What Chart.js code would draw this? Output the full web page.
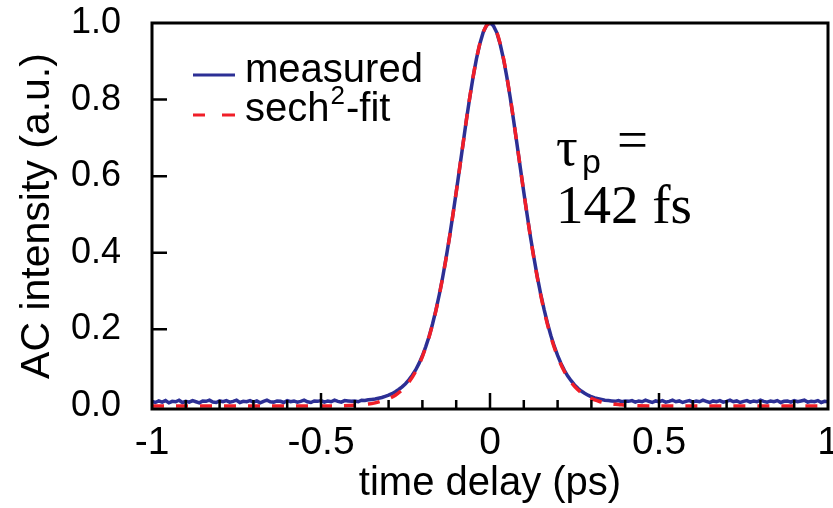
<!DOCTYPE html>
<html><head><meta charset="utf-8">
<script src="https://cdn.jsdelivr.net/npm/chart.js@4"></script>
<style>html,body{margin:0;padding:0;background:#fff;}#wrap{width:833px;height:508px;}</style>
</head><body><div id="wrap"><canvas id="c" width="833" height="508"></canvas></div>
<script>
const xTickValues = [-1, -0.5, 0, 0.5, 1];
const yTickValues = [0, 0.2, 0.4, 0.6, 0.8, 1.0];
const xMinorTicks = [-0.9,-0.8,-0.7,-0.6,-0.4,-0.3,-0.2,-0.1,0.1,0.2,0.3,0.4,0.6,0.7,0.8,0.9];
const seriesNames = ['measured', 'sech\u00B2-fit'];

const measuredTime = [
-1.00,-0.99,-0.98,-0.97,-0.96,-0.95,-0.94,-0.93,-0.92,-0.91,-0.90,-0.89,-0.88,-0.87,-0.86,-0.85,-0.84,-0.83,-0.82,-0.81,
-0.80,-0.79,-0.78,-0.77,-0.76,-0.75,-0.74,-0.73,-0.72,-0.71,-0.70,-0.69,-0.68,-0.67,-0.66,-0.65,-0.64,-0.63,-0.62,-0.61,
-0.60,-0.59,-0.58,-0.57,-0.56,-0.55,-0.54,-0.53,-0.52,-0.51,-0.50,-0.49,-0.48,-0.47,-0.46,-0.45,-0.44,-0.43,-0.42,-0.41,
-0.40,-0.39,-0.38,-0.37,-0.36,-0.35,-0.34,-0.33,-0.32,-0.31,-0.30,-0.29,-0.28,-0.27,-0.26,-0.25,-0.24,-0.23,-0.22,-0.21,
-0.20,-0.19,-0.18,-0.17,-0.16,-0.15,-0.14,-0.13,-0.12,-0.11,-0.10,-0.09,-0.08,-0.07,-0.06,-0.05,-0.04,-0.03,-0.02,-0.01,
0.00,0.01,0.02,0.03,0.04,0.05,0.06,0.07,0.08,0.09,0.10,0.11,0.12,0.13,0.14,0.15,0.16,0.17,0.18,0.19,
0.20,0.21,0.22,0.23,0.24,0.25,0.26,0.27,0.28,0.29,0.30,0.31,0.32,0.33,0.34,0.35,0.36,0.37,0.38,0.39,
0.40,0.41,0.42,0.43,0.44,0.45,0.46,0.47,0.48,0.49,0.50,0.51,0.52,0.53,0.54,0.55,0.56,0.57,0.58,0.59,
0.60,0.61,0.62,0.63,0.64,0.65,0.66,0.67,0.68,0.69,0.70,0.71,0.72,0.73,0.74,0.75,0.76,0.77,0.78,0.79,
0.80,0.81,0.82,0.83,0.84,0.85,0.86,0.87,0.88,0.89,0.90,0.91,0.92,0.93,0.94,0.95,0.96,0.97,0.98,0.99,1.00];

const measuredSignal = [
0.012,0.009,0.013,0.010,0.014,0.008,0.012,0.011,0.015,0.009,0.012,0.010,0.014,0.011,0.008,0.013,0.012,0.015,0.010,0.009,
0.013,0.011,0.014,0.010,0.012,0.015,0.009,0.012,0.011,0.014,0.010,0.013,0.008,0.012,0.015,0.011,0.010,0.013,0.012,0.009,
0.014,0.011,0.013,0.010,0.012,0.015,0.011,0.009,0.013,0.012,0.014,0.010,0.013,0.011,0.015,0.012,0.010,0.014,0.013,0.012,
0.013,0.011,0.015,0.014,0.016,0.017,0.018,0.020,0.022,0.025,0.028,0.032,0.037,0.043,0.050,0.058,0.068,0.080,0.094,0.111,
0.131,0.155,0.182,0.214,0.250,0.291,0.336,0.386,0.440,0.498,0.558,0.620,0.683,0.746,0.805,0.859,0.907,0.946,0.976,0.994,
1.000,0.993,0.975,0.945,0.906,0.858,0.804,0.745,0.683,0.620,0.558,0.498,0.440,0.387,0.337,0.292,0.252,0.216,0.184,0.156,
0.132,0.111,0.093,0.078,0.066,0.055,0.046,0.039,0.033,0.028,0.024,0.021,0.019,0.017,0.015,0.014,0.013,0.012,0.014,0.011,
0.013,0.012,0.014,0.010,0.013,0.011,0.015,0.012,0.009,0.013,0.011,0.014,0.010,0.012,0.015,0.011,0.013,0.009,0.012,0.014,
0.010,0.013,0.011,0.015,0.012,0.009,0.013,0.011,0.014,0.010,0.012,0.015,0.011,0.013,0.009,0.012,0.014,0.010,0.013,0.011,
0.015,0.012,0.010,0.013,0.011,0.014,0.009,0.012,0.013,0.010,0.014,0.011,0.013,0.015,0.010,0.012,0.011,0.014,0.009,0.012,0.011];

const fitTime = [-1.00,-0.50,-0.40,-0.38,-0.36,-0.34,-0.32,-0.30,-0.28,-0.26,-0.24,-0.22,-0.20,-0.18,-0.16,-0.14,-0.12,-0.10,-0.08,-0.06,-0.04,-0.02,
0.00,0.02,0.04,0.06,0.08,0.10,0.12,0.14,0.16,0.18,0.20,0.22,0.24,0.26,0.28,0.30,0.32,0.34,0.36,0.38,0.40,0.50,1.00];
const fitSignal = [0.000,0.000,0.002,0.004,0.005,0.008,0.013,0.019,0.028,0.042,0.062,0.090,0.129,0.181,0.249,0.335,0.439,0.558,0.683,0.805,0.907,0.976,
1.000,0.976,0.907,0.805,0.683,0.558,0.439,0.335,0.249,0.181,0.129,0.090,0.062,0.042,0.028,0.019,0.013,0.008,0.005,0.004,0.002,0.000,0.000];

const BLUE = '#2C2F95';
const RED = '#F01E28';
const SANS = "'Liberation Sans', Arial, sans-serif";
const SERIF = "'Liberation Serif', 'Times New Roman', serif";

const framePlugin = {
  id: 'frame',
  afterDraw(chart) {
    const ctx = chart.ctx, a = chart.chartArea;
    const xs = chart.scales.x, ys = chart.scales.y;
    ctx.save();
    ctx.strokeStyle = '#000';
    ctx.lineWidth = 3;
    ctx.strokeRect(a.left, a.top, a.right - a.left, a.bottom - a.top);
    ctx.lineWidth = 2.5;
    ctx.beginPath();
    xMinorTicks.forEach(v => { const p = xs.getPixelForValue(v); ctx.moveTo(p, a.bottom); ctx.lineTo(p, a.bottom - 9); });
    [-0.5, 0, 0.5].forEach(v => { const p = xs.getPixelForValue(v); ctx.moveTo(p, a.bottom); ctx.lineTo(p, a.bottom - 16); });
    yTickValues.slice(1, -1).forEach(v => { const p = ys.getPixelForValue(v); ctx.moveTo(a.left, p); ctx.lineTo(a.left + 15, p); });
    ctx.stroke();

    // legend
    ctx.lineWidth = 3;
    ctx.strokeStyle = BLUE;
    ctx.beginPath(); ctx.moveTo(193, 75); ctx.lineTo(235, 75); ctx.stroke();
    ctx.strokeStyle = RED;
    ctx.beginPath(); ctx.moveTo(193, 115); ctx.lineTo(205, 115); ctx.moveTo(222, 115); ctx.lineTo(235, 115); ctx.stroke();
    ctx.fillStyle = '#000';
    ctx.textBaseline = 'alphabetic';
    ctx.textAlign = 'left';
    ctx.font = '40px ' + SANS;
    ctx.fillText(seriesNames[0], 245, 82);
    ctx.fillText('sech', 245, 121);
    let w = ctx.measureText('sech').width;
    ctx.font = '26px ' + SANS;
    ctx.fillText('2', 245 + w + 1, 104);
    let w2 = ctx.measureText('2').width;
    ctx.font = '40px ' + SANS;
    ctx.fillText('-fit', 245 + w + w2 + 2, 121);

    // annotation
    ctx.font = '54px ' + SERIF;
    ctx.fillText('\u03C4', 556, 165);
    ctx.font = '34px ' + SANS;
    ctx.fillText('p', 582, 173);
    ctx.font = '55px ' + SERIF;
    ctx.fillText('=', 617, 158);
    ctx.fillText('142 fs', 556, 223);
    ctx.restore();
  }
};

new Chart(document.getElementById('c'), {
  type: 'line',
  data: {
    datasets: [
      { label: seriesNames[0], data: measuredTime.map((t, i) => ({ x: t, y: measuredSignal[i] })),
        borderColor: BLUE, borderWidth: 3.5, pointRadius: 0, tension: 0, order: 2 },
      { label: seriesNames[1], data: fitTime.map((t, i) => ({ x: t, y: fitSignal[i] })),
        borderColor: RED, borderWidth: 3.5, borderDash: [12, 12], pointRadius: 0, cubicInterpolationMode: 'monotone', order: 1 }
    ]
  },
  options: {
    responsive: false,
    animation: false,
    devicePixelRatio: 1,
    layout: { padding: { top: 23, right: 5, left: 0, bottom: 0 } },
    plugins: { legend: { display: false }, tooltip: { enabled: false } },
    scales: {
      x: {
        type: 'linear', min: -1, max: 1,
        afterBuildTicks: s => { s.ticks = xTickValues.map(v => ({ value: v })); },
        ticks: { color: '#000', font: { family: SANS, size: 39 }, padding: 3, maxRotation: 0, autoSkip: false, callback: v => String(v) },
        grid: { display: false }, border: { display: false },
        title: { display: true, text: 'time delay (ps)', color: '#000', font: { family: SANS, size: 40 }, padding: { top: 0, bottom: 0 } },
        afterFit: s => { s.height = 99; s.paddingLeft = 0; s.paddingRight = 0; }
      },
      y: {
        type: 'linear', min: -0.008, max: 1,
        afterBuildTicks: s => { s.ticks = yTickValues.map(v => ({ value: v })); },
        ticks: { color: '#000', font: { family: SANS, size: 36 }, padding: 23, callback: v => Number(v).toFixed(1) },
        grid: { display: false }, border: { display: false },
        title: { display: true, text: 'AC intensity (a.u.)', color: '#000', font: { family: SANS, size: 41 }, padding: { top: 13, bottom: 0 } },
        afterFit: s => { s.width = 152; s.paddingTop = 0; s.paddingBottom = 0; }
      }
    }
  },
  plugins: [framePlugin]
});
</script></body></html>
